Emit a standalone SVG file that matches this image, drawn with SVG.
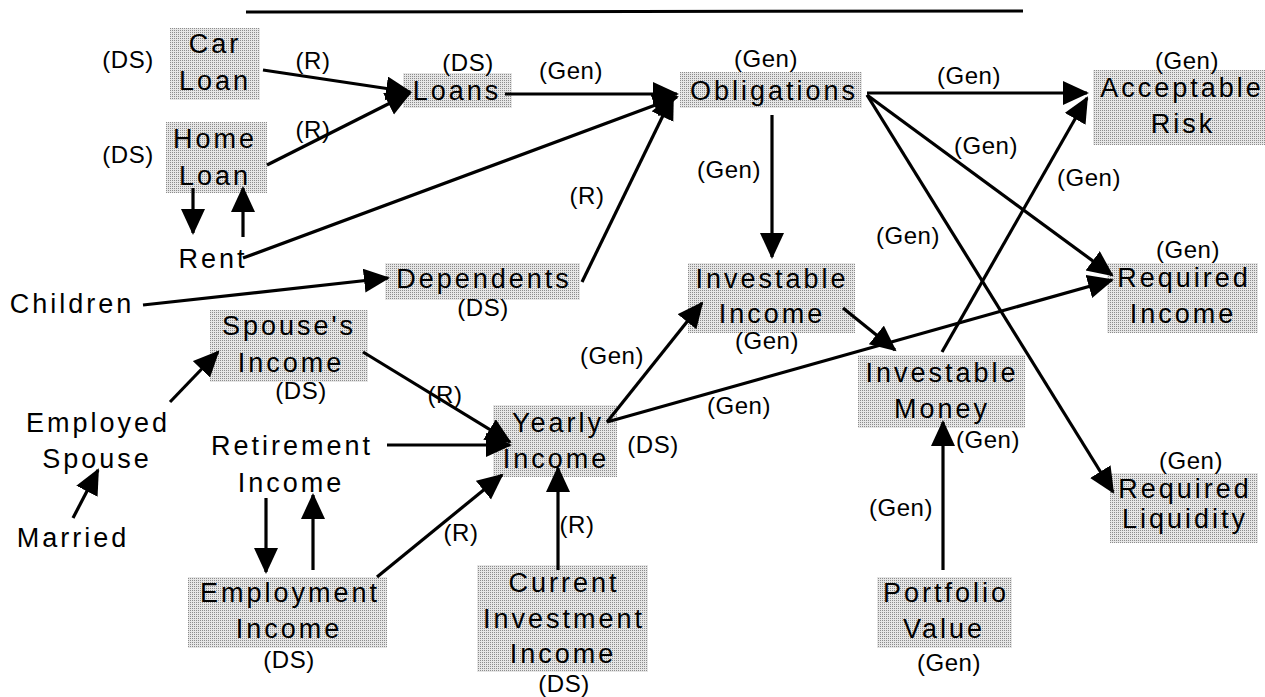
<svg xmlns="http://www.w3.org/2000/svg" width="1265" height="697" viewBox="0 0 1265 697">
<defs>
<pattern id="dots" width="2" height="2" patternUnits="userSpaceOnUse"><rect width="2" height="2" fill="#e6e6e6"/><rect width="1" height="1" fill="#8c8c8c"/></pattern>
<marker id="ah" markerUnits="userSpaceOnUse" markerWidth="28" markerHeight="26" refX="24" refY="12" orient="auto"><path d="M0,0 L26,12 L0,24 Z" fill="#000"/></marker>
<style>
.box{fill:url(#dots);stroke:none}
.t{font-family:"Liberation Sans",Arial,sans-serif;font-size:27px;letter-spacing:3px;text-anchor:middle;fill:#000}
.l{font-family:"Liberation Sans",Arial,sans-serif;font-size:24px;letter-spacing:0.5px;text-anchor:middle;fill:#000}
.c line{stroke:#000;stroke-width:3.2;marker-end:url(#ah)}
</style>
</defs>
<rect width="1265" height="697" fill="#fff"/>
<line x1="246" y1="12" x2="1023" y2="11" stroke="#000" stroke-width="3"/>

<g id="car-loan"><rect class="box" x="170" y="28" width="90" height="72"/><text class="t" x="215" y="53">Car</text><text class="t" x="215" y="90">Loan</text></g>
<g id="home-loan"><rect class="box" x="166" y="122" width="101" height="71"/><text class="t" x="215" y="148">Home</text><text class="t" x="215" y="185">Loan</text></g>
<g id="loans"><rect class="box" x="403" y="73" width="109" height="35"/><text class="t" x="457" y="100">Loans</text></g>
<g id="obligations"><rect class="box" x="680" y="72" width="182" height="36"/><text class="t" x="774" y="100">Obligations</text></g>
<g id="acceptable-risk"><rect class="box" x="1093" y="70" width="172" height="75"/><text class="t" x="1182" y="97">Acceptable</text><text class="t" x="1183" y="133">Risk</text></g>
<g id="rent"><text class="t" x="213" y="268">Rent</text></g>
<g id="children"><text class="t" x="72" y="313">Children</text></g>
<g id="dependents"><rect class="box" x="385" y="263" width="195" height="37"/><text class="t" x="484" y="288">Dependents</text></g>
<g id="investable-income"><rect class="box" x="688" y="263" width="167" height="70"/><text class="t" x="772" y="288">Investable</text><text class="t" x="772" y="323">Income</text></g>
<g id="required-income"><rect class="box" x="1107" y="263" width="151" height="70"/><text class="t" x="1184" y="287">Required</text><text class="t" x="1183" y="323">Income</text></g>
<g id="spouses-income"><rect class="box" x="210" y="310" width="158" height="72"/><text class="t" x="289" y="335">Spouse's</text><text class="t" x="291" y="372">Income</text></g>
<g id="employed-spouse"><text class="t" x="98" y="432">Employed</text><text class="t" x="97" y="468">Spouse</text></g>
<g id="married"><text class="t" x="73" y="547">Married</text></g>
<g id="retirement-income"><text class="t" x="292" y="455">Retirement</text><text class="t" x="291" y="492">Income</text></g>
<g id="yearly-income"><rect class="box" x="493" y="405" width="124" height="72"/><text class="t" x="558" y="432">Yearly</text><text class="t" x="556" y="468">Income</text></g>
<g id="investable-money"><rect class="box" x="858" y="355" width="167" height="73"/><text class="t" x="942" y="382">Investable</text><text class="t" x="942" y="418">Money</text></g>
<g id="employment-income"><rect class="box" x="188" y="577" width="199" height="71"/><text class="t" x="290" y="602">Employment</text><text class="t" x="289" y="638">Income</text></g>
<g id="current-investment-income"><rect class="box" x="477" y="565" width="171" height="107"/><text class="t" x="564" y="592">Current</text><text class="t" x="564" y="628">Investment</text><text class="t" x="563" y="663">Income</text></g>
<g id="portfolio-value"><rect class="box" x="877" y="577" width="135" height="71"/><text class="t" x="946" y="602">Portfolio</text><text class="t" x="944" y="638">Value</text></g>
<g id="required-liquidity"><rect class="box" x="1110" y="473" width="148" height="70"/><text class="t" x="1185" y="498">Required</text><text class="t" x="1185" y="528">Liquidity</text></g>

<g id="connectors" class="c">
<line x1="263" y1="70" x2="410" y2="92"/>
<line x1="267" y1="165" x2="410" y2="93"/>
<line x1="193" y1="188" x2="193" y2="233"/>
<line x1="243" y1="237" x2="243" y2="188"/>
<line x1="243" y1="258" x2="677" y2="97"/>
<line x1="505" y1="94" x2="677" y2="94"/>
<line x1="582" y1="282" x2="673" y2="95"/>
<line x1="143" y1="305" x2="388" y2="278"/>
<line x1="772" y1="115" x2="772" y2="257"/>
<line x1="867" y1="93" x2="1087" y2="93"/>
<line x1="867" y1="95" x2="1112" y2="275"/>
<line x1="867" y1="95" x2="1113" y2="492"/>
<line x1="942" y1="352" x2="1087" y2="98"/>
<line x1="843" y1="308" x2="895" y2="350"/>
<line x1="607" y1="422" x2="702" y2="303"/>
<line x1="607" y1="422" x2="1112" y2="280"/>
<line x1="943" y1="570" x2="943" y2="422"/>
<line x1="73" y1="518" x2="98" y2="470"/>
<line x1="170" y1="402" x2="218" y2="352"/>
<line x1="363" y1="352" x2="510" y2="442"/>
<line x1="387" y1="445" x2="510" y2="445"/>
<line x1="266" y1="498" x2="266" y2="572"/>
<line x1="313" y1="570" x2="313" y2="495"/>
<line x1="377" y1="577" x2="502" y2="475"/>
<line x1="558" y1="570" x2="558" y2="468"/>
</g>

<g id="labels">
<text class="l" x="128" y="68">(DS)</text>
<text class="l" x="128" y="163">(DS)</text>
<text class="l" x="313" y="69">(R)</text>
<text class="l" x="313" y="138">(R)</text>
<text class="l" x="468" y="71">(DS)</text>
<text class="l" x="571" y="79">(Gen)</text>
<text class="l" x="766" y="67">(Gen)</text>
<text class="l" x="969" y="84">(Gen)</text>
<text class="l" x="729" y="178">(Gen)</text>
<text class="l" x="587" y="204">(R)</text>
<text class="l" x="1187" y="69">(Gen)</text>
<text class="l" x="986" y="154">(Gen)</text>
<text class="l" x="1089" y="186">(Gen)</text>
<text class="l" x="908" y="244">(Gen)</text>
<text class="l" x="1188" y="258">(Gen)</text>
<text class="l" x="483" y="316">(DS)</text>
<text class="l" x="767" y="349">(Gen)</text>
<text class="l" x="612" y="364">(Gen)</text>
<text class="l" x="739" y="414">(Gen)</text>
<text class="l" x="301" y="399">(DS)</text>
<text class="l" x="445" y="403">(R)</text>
<text class="l" x="653" y="453">(DS)</text>
<text class="l" x="988" y="448">(Gen)</text>
<text class="l" x="461" y="541">(R)</text>
<text class="l" x="577" y="533">(R)</text>
<text class="l" x="901" y="516">(Gen)</text>
<text class="l" x="1191" y="469">(Gen)</text>
<text class="l" x="289" y="668">(DS)</text>
<text class="l" x="949" y="671">(Gen)</text>
<text class="l" x="564" y="692">(DS)</text>
</g>
</svg>
